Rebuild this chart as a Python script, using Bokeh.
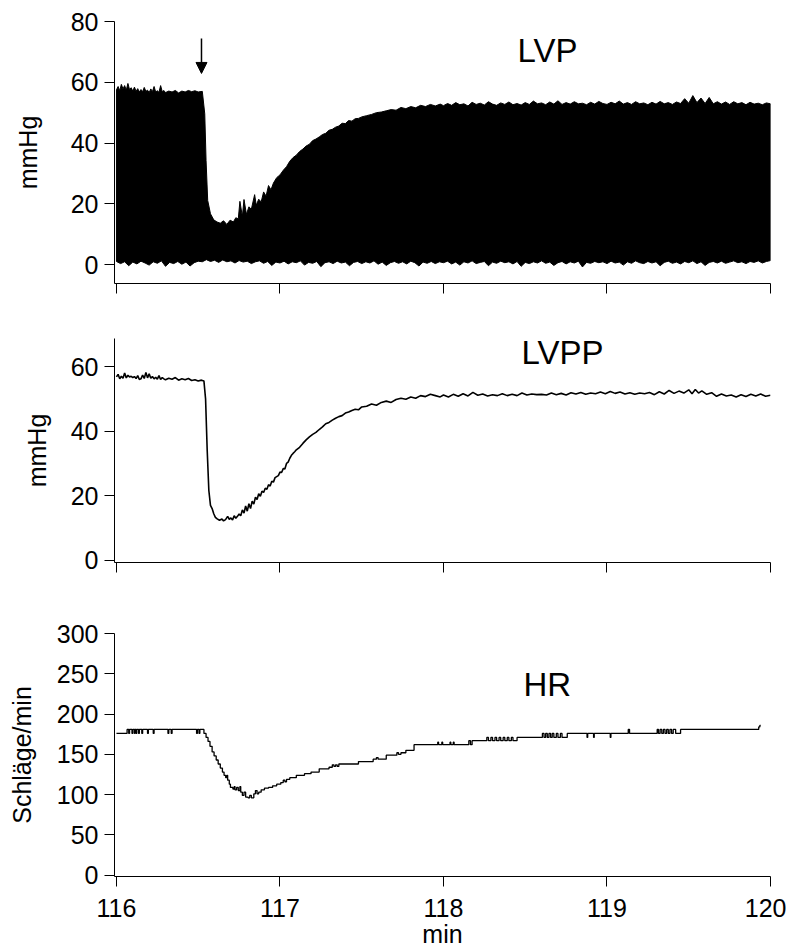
from bokeh.plotting import figure
from bokeh.layouts import column
from bokeh.models import FixedTicker, Label, Arrow, NormalHead, Range1d
from bokeh.embed import file_html
from bokeh.resources import INLINE

FONT = "Liberation Sans"

# ---------------- axes / ticks ----------------
X_TICKS = [116, 117, 118, 119, 120]
LVP_Y_TICKS = [0, 20, 40, 60, 80]
LVPP_Y_TICKS = [0, 20, 40, 60]
HR_Y_TICKS = [0, 50, 100, 150, 200, 250, 300]

TITLES = ["LVP", "LVPP", "HR"]
Y_LABELS = ["mmHg", "mmHg", "Schläge/min"]
X_LABEL = "min"

# ---------------- LVP: envelope of the pressure trace ----------------
LVP_UPPER_T = [116.000, 116.010, 116.020, 116.030, 116.040, 116.050, 116.060, 116.070, 116.080, 116.090,
               116.100, 116.110, 116.120, 116.130, 116.140, 116.150, 116.160, 116.170, 116.180, 116.190,
               116.200, 116.210, 116.220, 116.230, 116.240, 116.250, 116.260, 116.270, 116.280, 116.290,
               116.300, 116.320, 116.340, 116.360, 116.380, 116.400, 116.420, 116.440, 116.460, 116.480,
               116.500, 116.525, 116.540, 116.548, 116.558, 116.575, 116.595, 116.615, 116.635, 116.655,
               116.675, 116.695, 116.715, 116.730, 116.745, 116.755, 116.770, 116.780, 116.795, 116.810,
               116.825, 116.845, 116.855, 116.870, 116.885, 116.900, 116.915, 116.930, 116.945, 116.960,
               116.980, 117.000, 117.020, 117.040, 117.060, 117.080, 117.100, 117.120, 117.140, 117.160,
               117.180, 117.200, 117.220, 117.240, 117.260, 117.280, 117.300, 117.320, 117.340, 117.360,
               117.380, 117.400, 117.420, 117.440, 117.460, 117.480, 117.500, 117.530, 117.560, 117.590,
               117.620, 117.650, 117.680, 117.710, 117.740, 117.770, 117.800, 117.830, 117.860, 117.890,
               117.920, 117.950, 117.980,
               118.000, 118.025, 118.050, 118.075, 118.100, 118.125, 118.150, 118.175, 118.200, 118.225,
               118.250, 118.275, 118.300, 118.325, 118.350, 118.375, 118.400, 118.425, 118.450, 118.475,
               118.500, 118.525, 118.550, 118.575, 118.600, 118.625, 118.650, 118.675, 118.700, 118.725,
               118.750, 118.775, 118.800, 118.825, 118.850, 118.875, 118.900, 118.925, 118.950, 118.975,
               119.000, 119.025, 119.050, 119.075, 119.100, 119.125, 119.150, 119.175, 119.200, 119.225,
               119.250, 119.275, 119.300, 119.325, 119.350, 119.375, 119.400, 119.425, 119.450, 119.475,
               119.500, 119.525, 119.550, 119.575, 119.600, 119.625, 119.650, 119.675, 119.700, 119.725,
               119.750, 119.775, 119.800, 119.825, 119.850, 119.875, 119.900, 119.925, 119.950, 119.975,
               120.000]
LVP_UPPER = [57.5, 58.6, 57.2, 59.3, 57.8, 58.9, 57.4, 59.6, 57.6, 58.2,
             57.1, 58.4, 57.0, 57.9, 56.8, 57.6, 56.9, 58.3, 57.0, 57.4,
             56.6, 57.8, 56.9, 58.6, 56.8, 57.2, 56.7, 58.9, 56.9, 57.3,
             56.6, 57.1, 56.8, 57.3, 56.5, 57.1, 56.8, 57.3, 56.9, 57.2,
             56.8, 57.0, 49.6, 34.2, 21.1, 16.7, 14.7, 14.0, 13.6, 14.4,
             13.2, 14.6, 14.0, 15.4, 15.0, 20.8, 15.8, 21.4, 16.5, 19.0,
             18.2, 23.0, 19.5, 21.5, 20.6, 23.9, 22.5, 26.0, 24.6, 26.8,
             28.6, 29.5, 31.0, 32.2, 34.0, 35.2, 36.0, 37.2, 38.0, 39.0,
             39.6, 40.8, 41.3, 42.0, 42.8, 43.2, 44.2, 44.5, 45.2, 45.6,
             46.5, 46.4, 47.4, 47.2, 48.0, 48.1, 48.6, 49.0, 49.4, 50.0,
             50.2, 50.6, 51.0, 50.8, 51.7, 51.3, 52.0, 51.6, 52.4, 52.0,
             52.7, 52.2, 52.8,
             52.3, 53.0, 52.4, 53.3, 52.6, 52.9, 52.2, 53.4, 52.7, 53.1,
             52.5, 53.6, 52.8, 52.4, 53.2, 52.7, 53.5, 52.6, 53.0, 52.5,
             53.3, 52.7, 53.8, 52.9, 53.2, 52.6, 53.5, 52.8, 53.9, 52.7,
             53.3, 52.8, 53.6, 52.9, 53.1, 52.6, 53.4, 52.8, 53.7, 53.0,
             52.7, 53.4, 52.9, 53.8, 52.8, 53.3, 52.7, 53.6, 52.9, 53.2,
             52.6, 53.4, 52.8, 53.7, 52.9, 53.3, 52.7, 53.5, 53.0, 54.6,
             53.1, 55.6, 53.3, 54.8, 53.0, 55.0, 52.9, 53.6, 52.8, 53.5,
             52.7, 53.6, 52.9, 53.3, 52.6, 53.4, 52.8, 53.1, 52.6, 53.2,
             52.9]

LVP_LOWER_T = [116.000, 116.025, 116.050, 116.075, 116.100, 116.125, 116.150, 116.175, 116.200, 116.225,
               116.250, 116.275, 116.300, 116.325, 116.350, 116.375, 116.400, 116.425, 116.450, 116.475,
               116.500, 116.525, 116.550, 116.575, 116.600, 116.625, 116.650, 116.675, 116.700, 116.725,
               116.750, 116.775, 116.800, 116.825, 116.850, 116.875, 116.900, 116.925, 116.950, 116.975,
               117.000, 117.025, 117.050, 117.075, 117.100, 117.125, 117.150, 117.175, 117.200, 117.225,
               117.250, 117.275, 117.300, 117.325, 117.350, 117.375, 117.400, 117.425, 117.450, 117.475,
               117.500, 117.525, 117.550, 117.575, 117.600, 117.625, 117.650, 117.675, 117.700, 117.725,
               117.750, 117.775, 117.800, 117.825, 117.850, 117.875, 117.900, 117.925, 117.950, 117.975,
               118.000, 118.025, 118.050, 118.075, 118.100, 118.125, 118.150, 118.175, 118.200, 118.225,
               118.250, 118.275, 118.300, 118.325, 118.350, 118.375, 118.400, 118.425, 118.450, 118.475,
               118.500, 118.525, 118.550, 118.575, 118.600, 118.625, 118.650, 118.675, 118.700, 118.725,
               118.750, 118.775, 118.800, 118.825, 118.850, 118.875, 118.900, 118.925, 118.950, 118.975,
               119.000, 119.025, 119.050, 119.075, 119.100, 119.125, 119.150, 119.175, 119.200, 119.225,
               119.250, 119.275, 119.300, 119.325, 119.350, 119.375, 119.400, 119.425, 119.450, 119.475,
               119.500, 119.525, 119.550, 119.575, 119.600, 119.625, 119.650, 119.675, 119.700, 119.725,
               119.750, 119.775, 119.800, 119.825, 119.850, 119.875, 119.900, 119.925, 119.950, 119.975,
               120.000]
LVP_LOWER = [1.0, 0.3, 0.9, -0.4, 0.8, 0.2, 1.1, 0.5, -0.2, 0.9,
             0.4, 1.2, -0.6, 0.7, 0.3, 1.0, 0.1, 0.8, -0.5, 0.6,
             1.1, 0.9, 1.6, 1.0, 1.4, 0.7, 1.5, 0.9, 1.2, 0.5,
             1.3, 0.8, 1.1, 0.3, 0.9, 1.2, 0.4, 1.0, -0.3, 0.8,
             0.5, 1.1, 0.2, 0.9, 0.6, 1.2, -0.2, 0.7, 0.4, 1.0,
             -0.7, 0.6, 0.9, 0.3, 1.1, 0.5, 0.8, -0.4, 0.7, 1.0,
             0.3, 0.9, 0.5, 1.2, 0.1, 0.8, -0.3, 0.6, 1.0, 0.4,
             0.9, 0.2, 1.1, 0.6, -0.5, 0.8, 0.4, 1.0, 0.3, 0.9,
             0.6, 1.1, 0.2, 0.8, -0.2, 0.9, 0.5, 1.2, 0.3, 0.7,
             1.0, -0.4, 0.8, 0.4, 1.1, 0.6, 0.9, 0.2, 1.0, -0.6,
             0.7, 0.3, 0.9, 0.5, 1.2, 0.4, 0.8, -0.3, 0.6, 1.0,
             0.2, 0.9, 0.5, 1.1, -0.8, 0.7, 0.4, 1.0, 0.6, 0.9,
             0.3, 1.1, 0.5, 0.8, -0.2, 0.9, 0.4, 1.2, 0.6, 0.3,
             1.0, 0.5, 0.9, -0.4, 0.7, 1.1, 0.4, 0.8, 0.2, 1.0,
             0.6, 1.2, 0.3, 0.9, -0.3, 0.7, 1.0, 0.5, 1.1, 0.4,
             0.8, 1.2, 0.6, 0.9, 0.3, 1.0, 0.7, 1.2, 0.5, 1.0,
             1.3]

# ---------------- LVPP ----------------
LVPP_T = [116.00, 116.01, 116.02, 116.03, 116.04, 116.05, 116.06, 116.07, 116.08, 116.09,
          116.10, 116.11, 116.12, 116.13, 116.14, 116.15, 116.16, 116.17, 116.18, 116.19,
          116.20, 116.21, 116.22, 116.23, 116.24, 116.25, 116.26, 116.27, 116.28, 116.29,
          116.30, 116.32, 116.34, 116.36, 116.38, 116.40, 116.42, 116.44, 116.46, 116.48,
          116.50, 116.52, 116.535, 116.545, 116.555, 116.565, 116.575, 116.585, 116.595, 116.605,
          116.616, 116.630, 116.645, 116.655, 116.667, 116.680, 116.690, 116.700, 116.710, 116.720,
          116.730, 116.740, 116.750, 116.760, 116.770, 116.780, 116.790, 116.800, 116.810, 116.820,
          116.830, 116.840, 116.850, 116.860, 116.870, 116.880, 116.890, 116.900, 116.910, 116.920,
          116.930, 116.940, 116.950, 116.960, 116.970, 116.980, 116.990, 117.000, 117.010, 117.020,
          117.030, 117.040, 117.050, 117.060, 117.070, 117.080, 117.090, 117.100, 117.120, 117.140,
          117.160, 117.180, 117.200, 117.220, 117.240, 117.260, 117.280, 117.300, 117.320, 117.340,
          117.360, 117.380, 117.400, 117.420, 117.440, 117.460, 117.480, 117.500, 117.530, 117.560,
          117.590, 117.620, 117.650, 117.680, 117.710, 117.740, 117.770, 117.800, 117.830, 117.860,
          117.890, 117.920, 117.950, 117.980, 118.000, 118.030, 118.060, 118.090, 118.120, 118.150,
          118.180, 118.210, 118.240, 118.270, 118.300, 118.330, 118.360, 118.390, 118.420, 118.450,
          118.480, 118.510, 118.540, 118.570, 118.600, 118.630, 118.660, 118.690, 118.720, 118.750,
          118.780, 118.810, 118.840, 118.870, 118.900, 118.930, 118.960, 118.990, 119.020, 119.050,
          119.080, 119.110, 119.140, 119.170, 119.200, 119.230, 119.260, 119.290, 119.320, 119.350,
          119.380, 119.410, 119.440, 119.470, 119.500, 119.520, 119.540, 119.560, 119.580, 119.610,
          119.640, 119.670, 119.700, 119.730, 119.760, 119.790, 119.820, 119.850, 119.880, 119.910,
          119.940, 119.970, 120.000]
LVPP = [56.8, 57.6, 56.2, 57.0, 56.4, 58.0, 56.5, 57.3, 56.8, 57.0,
        56.6, 56.9, 56.3, 57.2, 56.0, 56.2, 57.4, 56.3, 58.2, 56.5,
        57.8, 56.4, 56.9, 56.2, 56.7, 56.1, 57.2, 56.0, 56.6, 56.2,
        55.9, 56.4, 56.1, 56.6, 55.8, 56.2, 55.9, 56.3, 55.7, 55.9,
        55.5, 55.8, 55.5, 50.0, 34.0, 21.6, 17.0, 16.0, 14.4, 13.3,
        12.8, 12.4, 12.8, 12.2, 12.6, 13.6, 12.7, 13.1, 12.5, 13.8,
        13.0, 13.6, 14.3, 13.8, 15.6, 14.6, 16.8, 15.2, 17.5, 16.0,
        18.3, 17.4, 19.5, 18.8, 20.6, 19.8, 21.4, 21.0, 22.3, 22.0,
        23.4, 23.0, 24.5, 24.2, 25.6, 25.9, 26.2, 27.3, 27.2, 28.4,
        28.3, 30.0, 30.4, 31.6, 32.5, 33.1, 33.6, 34.2, 35.0, 36.2,
        37.3, 38.2, 39.0, 39.6, 40.5, 41.3, 42.3, 42.7, 43.4, 44.0,
        44.5, 44.8, 45.6, 45.9, 46.4, 46.8, 46.6, 47.5, 47.7, 48.4,
        48.0, 48.9, 49.3, 48.9, 49.8, 50.2, 49.9, 50.6, 50.2, 51.0,
        50.7, 51.4, 51.0, 50.6, 51.2, 50.6, 51.4, 50.8, 51.6, 50.9,
        52.0, 51.1, 51.5, 50.9, 51.3, 51.0, 51.6, 51.0, 51.4, 51.0,
        51.8, 51.2, 51.5, 51.3, 51.4, 51.2, 51.8, 51.3, 51.7, 51.2,
        51.9, 51.5, 52.0, 51.4, 51.8, 51.6, 52.1, 51.6, 52.3, 51.7,
        52.1, 51.5, 51.9, 51.4, 51.8, 51.6, 52.0, 51.3, 52.2, 51.5,
        52.6, 51.7, 52.4, 51.8, 52.8, 51.6, 52.9, 51.8, 52.5, 51.4,
        51.9, 50.8, 51.5, 50.9, 51.2, 50.6, 51.3, 50.7, 51.4, 50.9,
        51.5, 50.8, 51.1]

# ---------------- HR (step trace) ----------------
HR_T = [116.000, 116.065, 116.075, 116.080, 116.095, 116.100, 116.110, 116.113, 116.120, 116.124,
        116.135, 116.140, 116.155, 116.160, 116.190, 116.195, 116.225, 116.230, 116.315, 116.320,
        116.335, 116.340, 116.490, 116.495, 116.505, 116.510, 116.535, 116.548, 116.560, 116.572,
        116.585, 116.597, 116.610, 116.622, 116.635, 116.648, 116.658, 116.668, 116.675, 116.680,
        116.690, 116.697, 116.712, 116.720, 116.725, 116.735, 116.745, 116.755, 116.760, 116.770,
        116.780, 116.790, 116.805, 116.815, 116.825, 116.840, 116.850, 116.860, 116.870, 116.885,
        116.905, 116.930, 116.955, 116.980, 117.005, 117.020, 117.030, 117.040, 117.060, 117.100,
        117.150, 117.190, 117.240, 117.300, 117.320, 117.330, 117.340, 117.350, 117.360, 117.480,
        117.570, 117.590, 117.600, 117.650, 117.715, 117.725, 117.740, 117.770, 117.820, 117.965,
        117.970, 117.990, 117.995, 118.040, 118.045, 118.060, 118.065, 118.155, 118.165, 118.175,
        118.265, 118.275, 118.290, 118.300, 118.315, 118.325, 118.340, 118.350, 118.365, 118.375,
        118.390, 118.400, 118.415, 118.425, 118.450, 118.605, 118.615, 118.625, 118.635, 118.645,
        118.655, 118.665, 118.675, 118.690, 118.700, 118.715, 118.725, 118.757, 118.878, 118.882,
        118.918, 118.922, 119.020, 119.024, 119.130, 119.138, 119.307, 119.315, 119.325, 119.335,
        119.345, 119.355, 119.365, 119.375, 119.385, 119.395, 119.405, 119.420, 119.450, 119.928,
        119.935, 119.940]
HR = [176, 181, 176, 181, 176, 181, 176, 181, 176, 181,
      176, 181, 176, 181, 176, 181, 176, 181, 176, 181,
      176, 181, 176, 181, 176, 181, 176, 171, 166, 160,
      153, 148, 143, 138, 133, 128, 124, 121, 124, 118,
      113, 109, 107, 110, 106, 109, 105, 110, 103, 99,
      103, 97, 96, 99, 96, 101, 105, 101, 103, 106,
      108, 109, 111, 113, 115, 118, 116, 119, 121, 124,
      126, 128, 132, 134, 137, 135, 137, 135, 138, 141,
      144, 146, 144, 149, 152, 150, 152, 155, 162, 165,
      162, 165, 162, 165, 162, 165, 162, 167, 162, 167,
      171, 167, 171, 167, 171, 167, 171, 167, 171, 167,
      171, 167, 171, 167, 171, 176, 171, 176, 171, 176,
      171, 176, 171, 176, 171, 176, 171, 176, 171, 176,
      171, 176, 171, 176, 181, 176, 181, 176, 181, 176,
      181, 176, 181, 176, 181, 176, 181, 176, 181, 184,
      186, 186]

# arrow marking the intervention, title positions (data coords)
ARROW_T = 116.52
ARROW_FROM, ARROW_TO = 74.4, 62.9
TITLE_POS = [(118.453, 70.6), (118.477, 64.5), (118.489, 236.5)]

X0, X1 = 115.988, 120.0


def style_axis(ax, size="25px"):
    ax.axis_line_color = "black"
    ax.axis_line_width = 1
    ax.major_tick_line_color = "black"
    ax.major_tick_line_width = 1
    ax.major_tick_out = 10
    ax.major_tick_in = 0
    ax.minor_tick_out = 0
    ax.minor_tick_in = 0
    ax.major_label_text_font = FONT
    ax.major_label_text_font_size = size
    ax.major_label_text_color = "black"
    ax.axis_label_text_font = FONT
    ax.axis_label_text_font_size = "25px"
    ax.axis_label_text_font_style = "normal"
    ax.axis_label_text_color = "black"


def make(frame_h, top, bottom, y0, y1, yticks, ylabel, ylab_standoff, xlabels):
    p = figure(frame_width=656, frame_height=frame_h,
               min_border_left=114, min_border_right=16,
               min_border_top=top, min_border_bottom=bottom,
               x_range=Range1d(X0, X1), y_range=Range1d(y0, y1),
               output_backend="svg", toolbar_location=None,
               background_fill_color="white", border_fill_color="white")
    p.outline_line_color = None
    p.grid.visible = False
    style_axis(p.yaxis[0])
    p.yaxis[0].ticker = FixedTicker(ticks=yticks)
    p.yaxis[0].major_label_standoff = 6
    p.yaxis[0].axis_label = ylabel
    p.yaxis[0].axis_label_standoff = ylab_standoff
    xa = p.xaxis[0]
    style_axis(xa, "25px" if xlabels else "0px")
    xa.ticker = FixedTicker(ticks=X_TICKS)
    if xlabels:
        xa.major_label_standoff = 12
        xa.axis_label = X_LABEL
        xa.axis_label_standoff = 0
    else:
        xa.major_label_standoff = 0
        xa.major_label_text_color = None
    return p


# Panel 1: LVP
p1 = make(262, 21, 17, -6.25, 80, LVP_Y_TICKS, Y_LABELS[0], 26, False)
band_x = LVP_UPPER_T + LVP_LOWER_T[::-1]
band_y = LVP_UPPER + LVP_LOWER[::-1]
p1.patch(band_x, band_y, fill_color="black", line_color="black", line_width=1)
p1.add_layout(Arrow(end=NormalHead(size=11, fill_color="black", line_color="black"),
                    x_start=ARROW_T, y_start=ARROW_FROM, x_end=ARROW_T, y_end=ARROW_TO,
                    line_color="black", line_width=1.5))
p1.add_layout(Label(x=TITLE_POS[0][0], y=TITLE_POS[0][1], text=TITLES[0],
                    text_font=FONT, text_font_size="33px", text_color="black",
                    text_baseline="alphabetic"))

# Panel 2: LVPP
p2 = make(224, 38, 38, -0.7, 68.7, LVPP_Y_TICKS, Y_LABELS[1], 17, False)
p2.line(LVPP_T, LVPP, line_color="black", line_width=1.6)
p2.add_layout(Label(x=TITLE_POS[1][0], y=TITLE_POS[1][1], text=TITLES[1],
                    text_font=FONT, text_font_size="33px", text_color="black",
                    text_baseline="alphabetic"))

# Panel 3: HR
p3 = make(243, 33, 71, -1.6, 300, HR_Y_TICKS, Y_LABELS[2], 18, True)
p3.step(HR_T, HR, mode="after", line_color="black", line_width=1.3)
p3.add_layout(Label(x=TITLE_POS[2][0], y=TITLE_POS[2][1], text=TITLES[2],
                    text_font=FONT, text_font_size="33px", text_color="black",
                    text_baseline="alphabetic"))

layout = column(p1, p2, p3, spacing=0)
open("out.html", "w").write(file_html(layout, INLINE))
